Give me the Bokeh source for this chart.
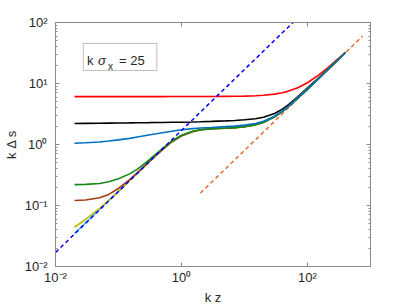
from bokeh.plotting import figure
from bokeh.models import Label, BoxAnnotation, FixedTicker, LogAxis, CustomJSTickFormatter, Range1d
from bokeh.embed import file_html
from bokeh.resources import INLINE

# ---------------- data ----------------
kz = [0.02, 0.03, 0.05, 0.07, 0.1, 0.15, 0.2, 0.3, 0.4, 0.5, 0.7, 1, 1.5, 2, 3, 5, 7,
      10, 15, 20, 30, 40, 50, 70, 100, 150, 200, 300, 400]

ds_red = [6.1, 6.1, 6.1, 6.1, 6.1, 6.1, 6.1, 6.1, 6.1, 6.1, 6.11, 6.11, 6.12, 6.12, 6.13,
          6.15, 6.17, 6.2, 6.28, 6.4, 6.7, 7.05, 7.5, 8.5, 10.3, 13.7, 17.3, 25.0, 32.6]
ds_black = [2.21, 2.22, 2.23, 2.24, 2.25, 2.26, 2.27, 2.28, 2.29, 2.30, 2.31, 2.32, 2.34,
            2.36, 2.39, 2.44, 2.48, 2.54, 2.65, 2.8, 3.22, 3.8, 4.5, 6.05, 8.5, 12.4, 16.3, 24.3, 32.2]
ds_blue = [1.05, 1.07, 1.1, 1.14, 1.19, 1.26, 1.33, 1.43, 1.5, 1.56, 1.65, 1.74, 1.82, 1.86,
           1.9, 1.96, 2.0, 2.08, 2.21, 2.4, 2.9, 3.52, 4.25, 5.8, 8.1, 12.06, 16.04, 24.01, 32.0]
ds_green = [0.22, 0.222, 0.23, 0.245, 0.275, 0.33, 0.395, 0.55, 0.71, 0.86, 1.14, 1.42, 1.65,
            1.75, 1.82, 1.86, 1.89, 1.96, 2.12, 2.32, 2.86, 3.5, 4.22, 5.77, 8.09, 12.05, 16.03,
            24.0, 32.0]
ds_brown = [0.121, 0.123, 0.134, 0.152, 0.19, 0.265, 0.346, 0.515, 0.675, 0.825, 1.11, 1.39,
            1.63, 1.74, 1.815, 1.855, 1.885, 1.955, 2.105, 2.31, 2.85, 3.49, 4.205, 5.755, 8.07,
            12.03, 16.02, 24.0, 32.0]
ds_yellow = [0.044, 0.059, 0.09, 0.122, 0.171, 0.255, 0.34, 0.51, 0.671, 0.821, 1.102, 1.382,
             1.622, 1.732, 1.811, 1.851, 1.881, 1.951, 2.1, 2.305, 2.845, 3.48, 4.2, 5.75, 8.07,
             12.03, 16.02, 24.0, 32.0]
ds_cyan = [0.035, 0.052, 0.086, 0.12, 0.17, 0.255, 0.34, 0.51, 0.67, 0.82, 1.1, 1.38, 1.62,
           1.73, 1.81, 1.85, 1.88, 1.95, 2.1, 2.3, 2.84, 3.48, 4.2, 5.75, 8.07, 12.03, 16.02,
           24.0, 32.0]

# reference (dashed) lines
ref_blue_x = [0.01, 60]
ref_blue_y = [0.017, 102]
ref_orange_x = [2, 750]
ref_orange_y = [0.16, 60]

x_ticks = [0.01, 1, 100]
x_tick_labels = ["10\u207b\u00b2", "10\u2070", "10\u00b2"]
y_ticks = [0.01, 0.1, 1, 10, 100]
y_tick_labels = ["10\u207b\u00b2", "10\u207b\u00b9", "10\u2070", "10\u00b9", "10\u00b2"]
y_minor = [m * 10 ** e for e in range(-2, 2) for m in range(2, 10)]

annotation_text = ["k", "\u03c3", "x", "= 25"]
x_title = "k z"
y_title = "k \u0394 s"

# ---------------- figure ----------------
AX = "#8a8a8a"
TXT = "#262626"
FONT = "Liberation Sans"

p = figure(width=409, height=308, x_axis_type="log", y_axis_type="log",
           x_range=Range1d(0.01, 1000), y_range=Range1d(0.01, 100),
           output_backend="svg", toolbar_location=None,
           min_border_left=53, min_border_right=39, min_border_top=22, min_border_bottom=42)
p.xgrid.visible = False
p.ygrid.visible = False
p.outline_line_color = AX
p.background_fill_color = "white"
p.border_fill_color = "white"

p.add_layout(LogAxis(), "above")
p.add_layout(LogAxis(), "right")

FMT_CODE = """
let best = 0;
for (let i = 1; i < tks.length; i++) {
  if (Math.abs(Math.log10(tks[i]) - Math.log10(tick)) <
      Math.abs(Math.log10(tks[best]) - Math.log10(tick))) best = i;
}
return lbls[best];
"""


def style_axis(ax, ticks, minor, labels=None):
    ax.ticker = FixedTicker(ticks=ticks, minor_ticks=minor)
    ax.axis_line_color = AX
    ax.major_tick_line_color = AX
    ax.minor_tick_line_color = AX
    ax.major_tick_in = 4
    ax.major_tick_out = 0
    ax.minor_tick_in = 2
    ax.minor_tick_out = 0
    if labels is None:
        ax.formatter = CustomJSTickFormatter(code="return ''")
        ax.major_label_text_font_size = "0px"
        ax.major_label_standoff = 0
    else:
        ax.formatter = CustomJSTickFormatter(args=dict(tks=ticks, lbls=labels), code=FMT_CODE)
        ax.major_label_text_font = FONT
        ax.major_label_text_font_size = "13px"
        ax.major_label_text_color = TXT
        ax.axis_label_text_font = FONT
        ax.axis_label_text_font_size = "13px"
        ax.axis_label_text_font_style = "normal"
        ax.axis_label_text_color = TXT


style_axis(p.below[0], x_ticks, [], x_tick_labels)
style_axis(p.above[0], x_ticks, [])
style_axis(p.left[0], y_ticks, y_minor, y_tick_labels)
style_axis(p.right[0], y_ticks, y_minor)

p.below[0].axis_label = x_title
p.below[0].major_label_standoff = 3
p.below[0].axis_label_standoff = 2
p.left[0].axis_label = y_title
p.left[0].major_label_standoff = 8
p.left[0].axis_label_standoff = 3

# ---------------- lines ----------------
p.line(ref_orange_x, ref_orange_y, line_color="#E8692D", line_width=1.5, line_dash="4 3")
series = [(ds_red, "#FF0000"), (ds_black, "#000000"), (ds_cyan, "#4DBEEE"),
          (ds_yellow, "#BDBD00"), (ds_brown, "#A33A12"), (ds_green, "#138A13"),
          (ds_blue, "#0072BD")]
for ys, col in series:
    p.line(kz, ys, line_color=col, line_width=1.6)
p.line(ref_blue_x, ref_blue_y, line_color="#0000FF", line_width=1.5, line_dash="4 3")


# ---------------- annotation box ----------------
def xd(px):
    return 10 ** (-2 + 5 * (px - 53) / 317)


def yd(py):
    return 10 ** (2 - 4 * (py - 22) / 244)


def lab(text, px, py, size, style="normal"):
    p.add_layout(Label(x=0.01, y=100, x_offset=px - 53, y_offset=-(py - 22), text=text,
                       text_font=FONT, text_font_size=f"{size}px", text_color=TXT,
                       text_align="left", text_baseline="alphabetic",
                       text_font_style=style))


p.add_layout(BoxAnnotation(left=xd(81), right=xd(155), top=yd(43), bottom=yd(70),
                           fill_color="white", fill_alpha=1.0,
                           line_color="#333333", line_width=1))
lab(annotation_text[0], 84.5, 60, 13)
lab(annotation_text[1], 95.5, 60, 13, style="italic")
lab(annotation_text[2], 105.5, 65.5, 10)
lab(annotation_text[3], 116.5, 60, 13)

open("out.html", "w").write(file_html(p, INLINE))
